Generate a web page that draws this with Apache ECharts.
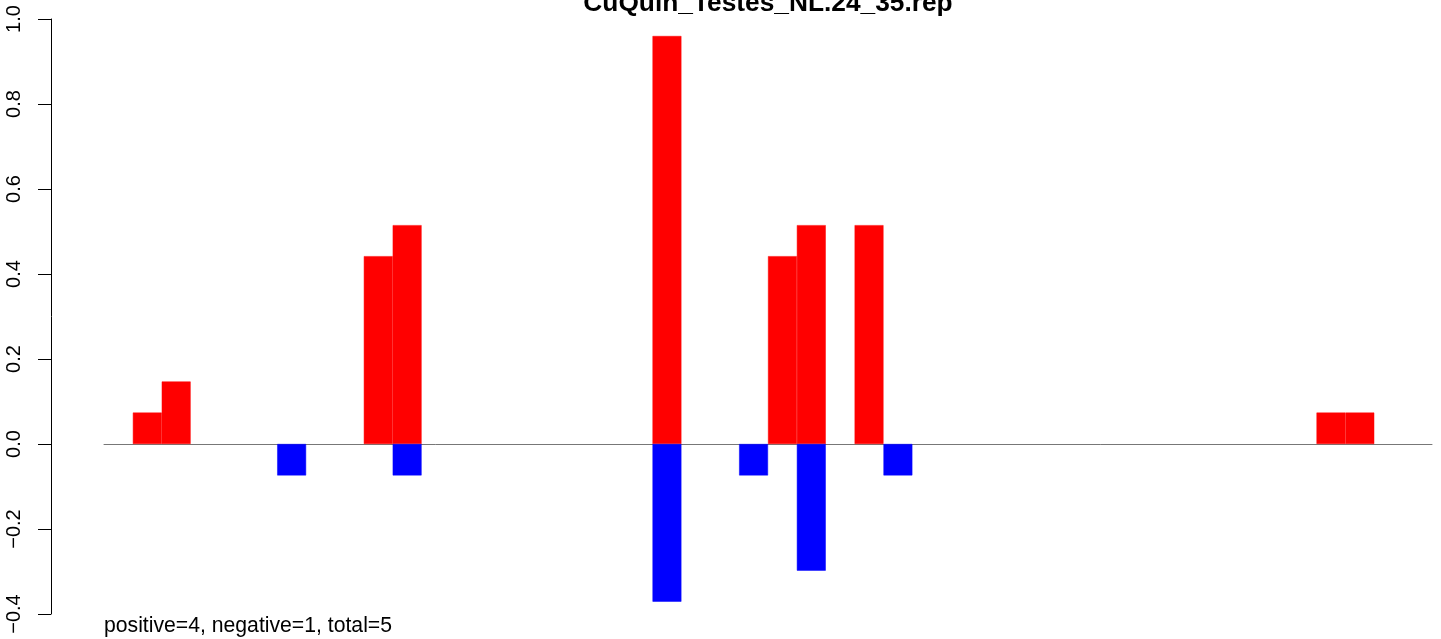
<!DOCTYPE html>
<html>
<head>
<meta charset="utf-8">
<script src="https://cdn.jsdelivr.net/npm/echarts@6/dist/echarts.min.js"></script>
<style>html,body{margin:0;padding:0;background:#fff;}#c{width:1441px;height:639px;}</style>
</head>
<body>
<div id="c"></div>
<script>
var titleText = 'CuQuin_Testes_NL.24_35.rep';
var footerText = 'positive=4, negative=1, total=5';
var nBins = 46;
// positive (red) values by bin index
var posIdx = [1, 2, 9, 10, 19, 23, 24, 26, 42, 43];
var posVal = [0.074, 0.147, 0.442, 0.515, 0.96, 0.442, 0.515, 0.515, 0.074, 0.074];
// negative (blue) values by bin index
var negIdx = [6, 10, 19, 22, 24, 27];
var negVal = [-0.074, -0.074, -0.371, -0.074, -0.298, -0.074];
var yTicks = [-0.4, -0.2, 0.0, 0.2, 0.4, 0.6, 0.8, 1.0];

var cats = [];
var pos = [], neg = [];
for (var i = 0; i < nBins; i++) { cats.push(String(i)); pos.push(null); neg.push(null); }
posIdx.forEach(function (k, j) { pos[k] = posVal[j]; });
negIdx.forEach(function (k, j) { neg[k] = negVal[j]; });

var chart = echarts.init(document.getElementById('c'), null, {renderer: 'canvas'});
chart.setOption({
  animation: false,
  backgroundColor: '#ffffff',
  textStyle: {fontFamily: 'Liberation Sans, Arial, sans-serif'},
  title: [
    {text: titleText, left: 768, top: -9, padding: 0, textAlign: 'center',
     textStyle: {fontSize: 26.3, fontWeight: 'bold', color: '#000', fontFamily: 'Liberation Sans'}},
    {text: footerText, left: 104, top: 616, padding: 0,
     textStyle: {fontSize: 21.2, fontWeight: 'normal', color: '#000', fontFamily: 'Liberation Sans'}}
  ],
  grid: {left: 104, right: 9, top: 19, bottom: 25, containLabel: false},
  xAxis: {
    type: 'category', data: cats,
    axisLine: {show: true, onZero: true, lineStyle: {color: '#777', width: 1}},
    axisTick: {show: false}, axisLabel: {show: false}, splitLine: {show: false}
  },
  yAxis: {
    type: 'value', min: -0.4, max: 1.0, interval: 0.2, offset: 53,
    axisLine: {show: true, lineStyle: {color: '#000', width: 1}},
    axisTick: {show: true, length: 13, lineStyle: {color: '#000'}},
    splitLine: {show: false},
    axisLabel: {
      rotate: 90, margin: 27, fontSize: 20, color: '#000', fontFamily: 'Liberation Sans',
      formatter: function (v) { return v.toFixed(1).replace('-', '\u2212'); }
    }
  },
  series: [
    {type: 'bar', data: pos, barWidth: '100%', barGap: '-100%', itemStyle: {color: '#ff0000', borderColor: '#ff0000', borderWidth: 0.5}},
    {type: 'bar', data: neg, barWidth: '100%', barGap: '-100%', itemStyle: {color: '#0000ff', borderColor: '#0000ff', borderWidth: 0.5}}
  ]
});
</script>
</body>
</html>
